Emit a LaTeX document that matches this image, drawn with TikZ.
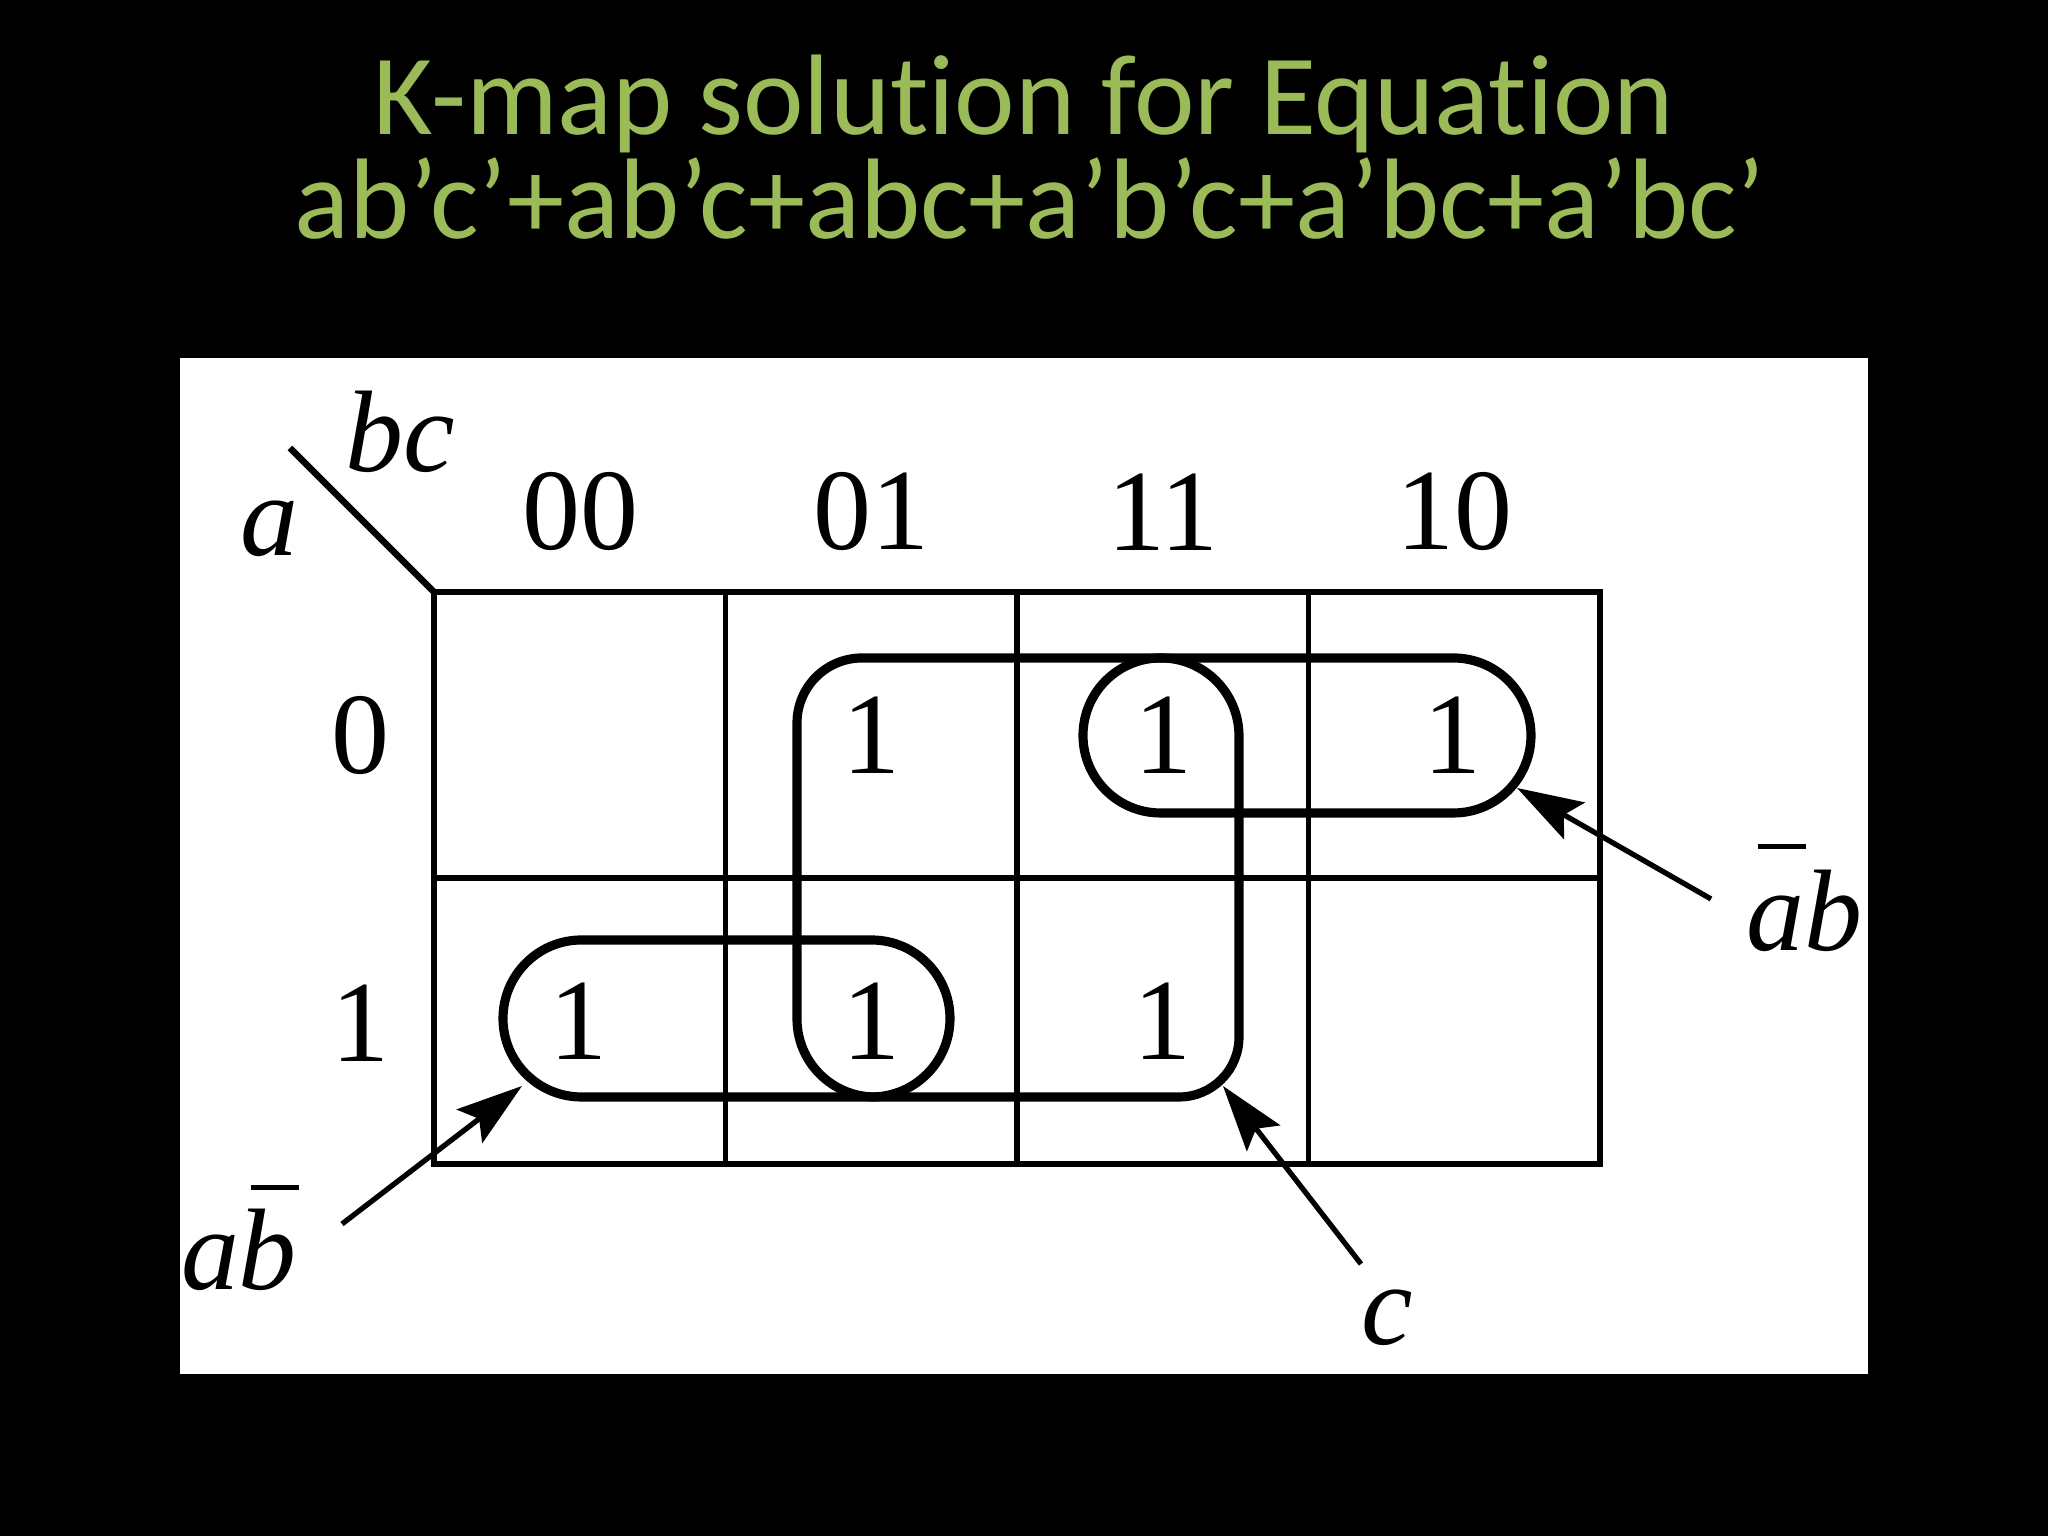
\documentclass[tikz,border=0pt]{standalone}
\usepackage{fontspec}
\setmainfont{Liberation Serif}
\newfontfamily\slidefont[Ligatures={NoCommon}]{Carlito}
\usepackage{tikz}
\usetikzlibrary{arrows.meta,positioning}
\definecolor{slidegreen}{RGB}{155,187,89}
\newcommand{\barred}[2][0.88em]{\rlap{\hspace{0.1em}\rule[#1]{0.42em}{0.045em}}#2}
\tikzstyle{heading}   = [font=\slidefont\fontsize{32.6}{38}\selectfont, text=slidegreen, anchor=base, inner sep=0pt]
\tikzstyle{entry}     = [font=\fontsize{33}{40}\selectfont, inner sep=0pt]
\tikzstyle{var}       = [font=\fontsize{33}{40}\selectfont\itshape, inner sep=0pt]
\tikzstyle{mapline}   = [line width=1.5pt]
\tikzstyle{implicant} = [line width=2.6pt]
\tikzstyle{pointer}   = [line width=1.5pt, -{Stealth[length=0.66cm, width=0.42cm, inset=0.12cm]}]

\begin{document}
\begin{tikzpicture}
        \fill[black] (0,0) rectangle (20.48,15.36);
        \useasboundingbox (0,0) rectangle (20.48,15.36);
        \fill[white] (1.80,1.62) rectangle (18.68,11.78);

        \node[heading] (title) at (10.24,14.01) {K-map solution for Equation};
        \node[heading] (equation) at (10.30,12.97) {ab’c’+ab’c+abc+a’b’c+a’bc+a’bc’};

        % map
        \draw[mapline, line width=1.8pt] (4.34,3.72) rectangle (16.00,9.44);
        \draw[mapline] (7.255,3.72) -- (7.255,9.44);
        \draw[mapline] (10.17,3.72) -- (10.17,9.44);
        \draw[mapline] (13.085,3.72) -- (13.085,9.44);
        \draw[mapline] (4.34,6.58) -- (16.00,6.58);

        \coordinate (corner) at (4.34,9.44);
        \coordinate (slash) at (2.90,10.88);
        \draw[line width=1.9pt] (slash) -- (corner);
        \node[var] (bc) at (4.00,11.04) {bc};
        \node[var] (a) at (2.69,10.07) {a};

        \node[entry] (h00) at (5.80,10.24) {00};
        \node[entry] (h01) at (8.71,10.24) {01};
        \node[entry] (h11) at (11.63,10.24) {11};
        \node[entry] (h10) at (14.54,10.24) {10};
        \node[entry] (r0) at (3.60,8.00) {0};
        \node[entry] (r1) at (3.60,5.13) {1};

        \node[entry] (m01) at (8.71,8.01) {1};
        \node[entry] (m03) at (11.63,8.01) {1};
        \node[entry] (m02) at (14.52,8.01) {1};
        \node[entry] (m11) at (5.78,5.15) {1};
        \node[entry] (m13) at (8.71,5.15) {1};
        \node[entry] (m12) at (11.62,5.15) {1};

        % groups
        \draw[implicant, rounded corners=0.775cm] (10.83,7.23) rectangle (15.31,8.78);
        \draw[implicant, rounded corners=0.785cm] (5.03,4.39) rectangle (9.50,5.96);
        \draw[implicant] (7.97,5.17) -- (7.97,8.13) arc[start angle=180, end angle=90, radius=0.65]
                -- (11.61,8.78) arc[start angle=90, end angle=0, radius=0.78]
                -- (12.39,4.99) arc[start angle=0, end angle=-90, radius=0.6]
                -- (8.75,4.39) arc[start angle=270, end angle=180, radius=0.78] -- cycle;

        % labels
        \node[var, anchor=base] (notab) at (18.04,5.85) {\barred{a}b};
        \node[var, anchor=base] (anotb) at (2.39,2.46) {a\barred[0.86em]{b}};
        \node[var, anchor=base] (c) at (13.87,1.91) {c};

        \coordinate (notabtail) at (17.11,6.37);
        \coordinate (notabtip) at (15.17,7.48);
        \coordinate (anotbtail) at (3.42,3.12);
        \coordinate (anotbtip) at (5.22,4.50);
        \coordinate (ctail) at (13.61,2.72);
        \coordinate (ctip) at (12.23,4.50);
        \draw[pointer] (notabtail) -- (notabtip);
        \draw[pointer] (anotbtail) -- (anotbtip);
        \draw[pointer] (ctail) -- (ctip);
\end{tikzpicture}
\end{document}
